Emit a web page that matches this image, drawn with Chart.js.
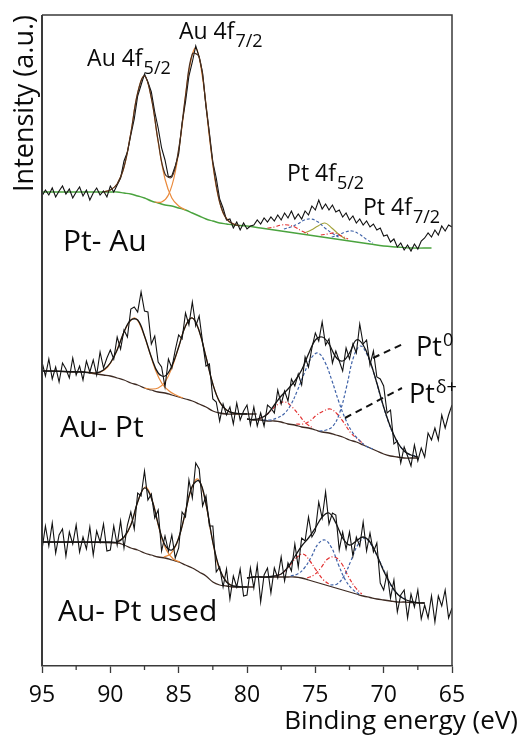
<!DOCTYPE html>
<html><head><meta charset="utf-8">
<script src="https://cdn.jsdelivr.net/npm/chart.js@4/dist/chart.umd.min.js"></script>
<style>html,body{margin:0;padding:0;background:#fff}canvas{display:block}</style>
</head><body>
<canvas id="c" width="521" height="738"></canvas>
<script>
// ---------- DATA (binding energy in eV, intensity in a.u.) ----------
const tickLabels = [95, 90, 85, 80, 75, 70, 65];
const gridEnergy = Array.from({length: 121}, (_, i) => 95 - 0.25 * i);

// raw spectra (same energy grid)
const ptAuData = [470,476,471,478,469,475,480,472,477,468,474,479,470,476,466,473,478,471,475,469,
480,474,481,488,505,514,531,547,570,581,592,584,574,554,538,518,506,489,490,500,
512,543,564,590,604,620,609,593,559,533,504,488,467,458,446,447,438,444,436,443,
437,440,441,446,442,448,444,449,445,451,446,453,448,455,447,452,447,455,451,460,
456,466,457,462,456,461,454,456,449,453,446,450,443,447,441,445,439,442,436,438,
430,431,424,427,419,423,416,421,415,422,417,425,428,433,429,436,431,440,435,441,439];
const auPtData = [304,290,307,287,299,284,303,297,288,308,291,300,286,305,294,306,291,314,298,308,
316,307,329,317,336,329,357,359,354,374,355,354,322,330,304,299,279,307,298,316,
331,327,353,341,364,340,350,324,300,302,267,264,245,262,251,259,242,263,246,255,
261,241,259,240,253,240,261,258,253,276,262,275,265,287,280,292,281,309,299,318,
333,325,344,321,327,303,315,305,295,318,307,322,313,342,322,326,301,315,289,287,
280,253,256,222,225,203,219,210,200,221,205,218,209,233,226,238,226,251,238,251,261];
const usedData = [116,140,120,143,113,131,137,110,134,122,141,114,129,117,139,111,135,124,142,115,
116,140,121,145,118,141,154,137,173,170,195,166,172,148,156,115,130,115,131,108,
118,154,149,186,168,203,197,160,170,140,140,94,99,79,97,67,90,79,97,70,
71,98,78,101,64,91,98,73,98,88,109,85,103,95,122,99,128,125,149,129,
135,164,148,174,142,153,151,116,134,117,134,110,129,120,144,115,133,114,123,83,
76,93,68,86,54,71,76,48,72,59,76,47,61,48,70,44,70,60,76,48,58];

// Pt-Au fits
const topBgE = [95,90,89.5,89,88.5,88,87.5,87,86.5,86,85.5,85,84.5,84,83.5,83,82.5,82,81.5,81,80,79,78,77,76,75,74,73,72,71,70,69,68,66.5];
const topBg  = [474,474,474,473,472,470,468,465,463,461,460,458,456,453,450,447,445,443,442,441,440,438,436,434,432,430,428,426,424,422,420,419,418,418];
const topAu52E = [90.5,90,89.5,89,88.5,88,87.5,87,86.5,86,85.5,85,84.5];
const topAu52  = [474,476,482,499,533,573,590,568,524,487,468,460,456];
const topAu72E = [86.75,86.25,85.75,85.25,84.75,84.25,83.75,83.25,82.75,82.25,81.75,81.25,80.75];
const topAu72  = [464,464,471,494,540,595,618,588,529,479,453,444,441];
const topFitE = [90.5,90,89.5,89,88.5,88,87.5,87,86.5,86,85.5,85,84.5,84,83.5,83,82.5,82,81.5,81,80.5];
const topFit  = [474,476,482,499,533,573,590,568,525,492,489,517,570,612,609,561,503,464,447,442,440];
const topRed1E = [78.5,78,77.5,77,76.5,76,75.5];
const topRed1  = [438,439,441,441,439,435,432];
const topBlue1E = [77.3,76.8,76.3,75.8,75.3,74.8,74.3,73.8,73.3];
const topBlue1  = [437,439,442,446,447,444,438,433,429];
const topOliveE = [75.8,75.3,74.8,74.3,73.8,73.3,72.8];
const topOlive  = [433,436,440,443,438,432,427];
const topRed2E = [74.6,74.1,73.6,73.1,72.6];
const topRed2  = [431,432,433,430,427];
const topBlue2E = [73.8,73.3,72.8,72.3,71.8,71.3,70.8];
const topBlue2  = [429,431,434,435,432,427,423];

// Au-Pt fits
const midBgAuE = [95,94,93,92,91.5,91,90.5,90,89.5,89,88.5,88,87.5,87,86.5,86,85.5,85,84.5,84,83.5,83,82.5,82,81.5,81,80,79.3];
const midBgAu  = [295,295,294,294,293,292,291,290,288,286,283,281,278,276,274,273,271,269,267,265,262,259,255,253,252,252,252,252];
const midAu52E = [91.7,91.2,90.7,90.2,89.7,89.2,88.7,88.2,87.7,87.2,86.7,86.2,85.7,85.2,84.7];
const midAu52  = [294,293,294,299,310,327,342,348,337,317,296,282,275,271,268];
const midAu72E = [87.5,87,86.5,86,85.5,85,84.5,84,83.5,83,82.5,82,81.5,81,80.5];
const midAu72  = [278,277,278,284,298,319,340,348,335,309,282,264,256,253,252];
const midFitAuE = [95,92,91.5,91,90.5,90,89.5,89,88.5,88,87.5,87,86.5,86,85.5,85,84.5,84,83.5,83,82.5,82,81.5,81,80];
const midFitAu  = [295,294,293.5,293,296,303,316,334,346,346,330,309,293,290,300,319,340,348,335,309,282,264,256,253,252];
const midPtE   = [80,79.5,79,78.5,78,77.5,77,76.5,76,75.5,75,74.5,74,73.5,73,72.5,72,71.5,71,70.5,70,69.5,69,68.5,68,67.5];
const midBgPt  = [247,246,246,245,245,244,242,241,239,238,236,234,233,231,229,226,224,221,218,215,212,210,209,208,208,208];
const midFitPt = [247,246.5,248,252,261,270,277,285,296,312,326,329,322,309,305,313,326,321,305,283,259,239,224,215,211,209];
const midBlue1E = [78.8,78.3,77.8,77.3,76.8,76.3,75.8,75.3,74.8,74.3,73.8,73.3,72.8,72.3,71.8,71.3,70.8];
const midBlue1  = [246,246,248,252,261,276,293,308,313,304,286,265,247,234,226,220,217];
const midBlue2E = [74.7,74.2,73.7,73.2,72.7,72.2,71.7,71.2,70.7,70.2,69.7,69.2,68.7,68.2,67.7];
const midBlue2  = [235,236,240,254,280,309,320,311,292,268,246,229,218,212,210];
const midRed1E = [79.2,78.7,78.2,77.7,77.2,76.7,76.2,75.7,75.2];
const midRed1  = [247,250,256,262,264,259,251,243,238];
const midRed2E = [76.4,75.9,75.4,74.9,74.4,73.9,73.4,72.9,72.4,71.9,71.4];
const midRed2  = [242,242,245,251,255,257,252,243,233,227,221];

// Au-Pt used fits
const botBgAuE = [95,89.5,89,88.5,88,87.5,87,86.5,86,85.5,85,84.5,84,83.5,83,82.5,82,81.5,81,80,79.5];
const botBgAu  = [124,123,121,118,116,113,111,109,108,106,104,101,98,94,90,84,81,80,79,79,79];
const botAu52E = [89.4,88.9,88.4,87.9,87.4,86.9,86.4,85.9,85.4,84.9];
const botAu52  = [125,130,145,168,179,164,136,116,107,104];
const botAu72E = [86.1,85.6,85.1,84.6,84.1,83.6,83.1,82.6,82.1,81.6,81.1];
const botAu72  = [109,112,124,148,176,187,168,131,100,86,80];
const botFitAuE = [95,90,89.5,89,88.5,88,87.5,87,86.5,86,85.5,85,84.5,84,83.5,83,82.5,82,81.5,81,80];
const botFitAu  = [124,124,124,129,141,164,178,168,142,121,116,128,154,180,185,162,124,97,84,80,79];
const botPtE   = [80,79.5,79,78.5,78,77.5,77,76.5,76,75.5,75,74.5,74,73.5,73,72.5,72,71.5,71,70.5,70,69.5,69,68.5,68,67.5,67];
const botBgPt  = [88,89,89,89,89,89,89,89,88,86,84,82,80,78,76,74,72,70,68.5,67,66,65,64,64,63.5,63,63];
const botFitPt = [88,89,89,89,90,92,99,109.5,120,128,138,149,153,143,128,121,125,129,124,111,95,82,72,67,64.5,63.3,63];
const botBlue1E = [76.8,76.3,75.8,75.3,74.8,74.3,73.8,73.3,72.8,72.3,71.8];
const botBlue1  = [90,92,98,109,122,126,118,101,86,77,72];
const botBlue2E = [73.9,73.4,72.9,72.4,71.9,71.4,70.9,70.4,69.9,69.4,68.9,68.4];
const botBlue2  = [81,82,90,105,121,128,121,108,93,79,71,67];
const botRed1E = [77.9,77.4,76.9,76.4,75.9,75.4,74.9,74.4,73.9];
const botRed1  = [90,93,100,108,112,105,95,86,81];
const botRed2E = [75.6,75.1,74.6,74.1,73.6,73.1,72.6,72.1,71.6];
const botRed2  = [88,91,98,107,109,103,90,79,72];

// ---------- STYLE / LAYOUT ----------
const FONT = "'Open Sans', 'DejaVu Sans', sans-serif";
const C = {
  data: '#111111', fit: '#151515', fitTop: '#4a3020', green: '#4aa33e', orange: '#ea8a3c',
  brown: '#3d2a22', blue: '#3f62a8', red: '#e23030', olive: '#a3a23a', frame: '#3a3a3a', text: '#0a0a0a'
};
const pts = (E, V) => E.map((e, i) => ({x: e, y: V[i]}));
function line(E, V, color, width, extra) {
  return Object.assign({data: pts(E, V), borderColor: color, borderWidth: width, pointRadius: 0,
    fill: false, tension: 0.4}, extra || {});
}
const blueDash = {borderDash: [3, 2]};
const redDash = {borderDash: [4, 2, 1, 2]};
const raw = (V) => ({data: gridEnergy.map((e, i) => ({x: e, y: V[i]})), borderColor: C.data,
  borderWidth: 1.1, pointRadius: 0, fill: false, tension: 0});

const datasets = [
  line(topFitE, topFit, C.fitTop, 1.2),
  line(midFitAuE, midFitAu, C.fit, 1.3),
  line(midPtE, midFitPt, C.fit, 1.3),
  line(botFitAuE, botFitAu, C.fit, 1.3),
  line(botPtE, botFitPt, C.fit, 1.3),
  raw(ptAuData), raw(auPtData), raw(usedData),
  line(topAu52E, topAu52, C.orange, 1.2), line(topAu72E, topAu72, C.orange, 1.2),
  line(midAu52E, midAu52, C.orange, 1.2), line(midAu72E, midAu72, C.orange, 1.2),
  line(botAu52E, botAu52, C.orange, 1.2), line(botAu72E, botAu72, C.orange, 1.2),
  line(topRed1E, topRed1, C.red, 1.1, redDash), line(topRed2E, topRed2, C.red, 1.1, redDash),
  line(topBlue1E, topBlue1, C.blue, 1.1, blueDash), line(topBlue2E, topBlue2, C.blue, 1.1, blueDash),
  line(topOliveE, topOlive, C.olive, 1.1),
  line(midBlue1E, midBlue1, C.blue, 1.2, blueDash), line(midBlue2E, midBlue2, C.blue, 1.2, blueDash),
  line(midRed1E, midRed1, C.red, 1.2, redDash), line(midRed2E, midRed2, C.red, 1.2, redDash),
  line(botBlue1E, botBlue1, C.blue, 1.2, blueDash), line(botBlue2E, botBlue2, C.blue, 1.2, blueDash),
  line(botRed1E, botRed1, C.red, 1.2, redDash), line(botRed2E, botRed2, C.red, 1.2, redDash),
  line(topBgE, topBg, C.green, 1.4),
  line(midBgAuE, midBgAu, C.brown, 1.3), line(midPtE, midBgPt, C.brown, 1.3),
  line(botBgAuE, botBgAu, C.brown, 1.3), line(botPtE, botBgPt, C.brown, 1.3)
];

// annotations placed in data coordinates
const textLabels = [
  {main: 'Au 4f', sub: '5/2', at: [91.70, 600], size: 23},
  {main: 'Au 4f', sub: '7/2', at: [84.98, 627], size: 23},
  {main: 'Pt 4f', sub: '5/2', at: [77.07, 485], size: 23},
  {main: 'Pt 4f', sub: '7/2', at: [71.51, 451], size: 23},
  {main: 'Pt- Au', at: [93.46, 415], size: 30},
  {main: 'Au- Pt', at: [93.68, 229], size: 30},
  {main: 'Au- Pt used', at: [93.83, 45], size: 30},
  {main: 'Pt', sup: '0', at: [67.63, 310], size: 27},
  {main: 'Pt', sup: 'δ+', at: [68.15, 263], size: 27}
];
const leaderLines = [[[70.78, 308], [68.44, 323]], [[72.83, 248], [68.66, 278]]];
const minorTicks = [92.5, 87.5, 82.5, 77.5, 72.5, 67.5];

const decor = {
  id: 'decor',
  afterDatasetsDraw(chart) {
    const {ctx, chartArea: a, scales: {x, y}} = chart;
    ctx.save();
    // frame
    ctx.strokeStyle = C.frame;
    ctx.lineWidth = 1.5;
    ctx.beginPath();
    ctx.moveTo(a.left, a.top); ctx.lineTo(a.right, a.top); ctx.lineTo(a.right, a.bottom);
    ctx.stroke();
    ctx.lineWidth = 2;
    ctx.beginPath(); ctx.moveTo(a.left, a.top); ctx.lineTo(a.left, a.bottom); ctx.stroke();
    // minor ticks
    ctx.lineWidth = 1.3;
    minorTicks.forEach(v => {
      const px = x.getPixelForValue(v);
      ctx.beginPath(); ctx.moveTo(px, a.bottom); ctx.lineTo(px, a.bottom + 4); ctx.stroke();
    });
    // leader lines
    ctx.strokeStyle = '#111'; ctx.lineWidth = 2; ctx.setLineDash([7, 5]);
    leaderLines.forEach(([p, q]) => {
      ctx.beginPath();
      ctx.moveTo(x.getPixelForValue(p[0]), y.getPixelForValue(p[1]));
      ctx.lineTo(x.getPixelForValue(q[0]), y.getPixelForValue(q[1]));
      ctx.stroke();
    });
    ctx.setLineDash([]);
    // labels
    ctx.fillStyle = C.text; ctx.textBaseline = 'alphabetic'; ctx.textAlign = 'left';
    textLabels.forEach(l => {
      const px = x.getPixelForValue(l.at[0]), py = y.getPixelForValue(l.at[1]);
      ctx.font = l.size + 'px ' + FONT;
      ctx.fillText(l.main, px, py);
      const w = ctx.measureText(l.main).width;
      if (l.sub) { ctx.font = Math.round(l.size * 0.8) + 'px ' + FONT; ctx.fillText(l.sub, px + w + 1, py + 8); }
      if (l.sup) { ctx.font = Math.round(l.size * 0.65) + 'px ' + FONT; ctx.fillText(l.sup, px + w + 1, py - 10); }
    });
    // x-axis title
    ctx.font = '26px ' + FONT; ctx.textAlign = 'right';
    ctx.fillText('Binding energy (eV)', 518, 729);
    ctx.restore();
  }
};

new Chart(document.getElementById('c'), {
  type: 'line',
  data: {datasets},
  options: {
    responsive: false, animation: false, devicePixelRatio: 1,
    layout: {padding: {top: 15, right: 69, left: 0, bottom: 0}},
    plugins: {legend: {display: false}, tooltip: {enabled: false}},
    scales: {
      x: {
        type: 'linear', reverse: true, min: 65, max: 95,
        afterFit(s) { s.height = 72; },
        afterBuildTicks(s) { s.ticks = tickLabels.map(v => ({value: v})); },
        ticks: {font: {family: FONT, size: 23}, color: C.text, padding: 9, maxRotation: 0,
          callback: v => String(v)},
        grid: {drawOnChartArea: false, drawTicks: true, tickLength: 7, tickColor: C.frame, tickWidth: 1.3},
        border: {display: true, color: C.frame, width: 1.5}
      },
      y: {
        min: 0, max: 651,
        afterFit(s) { s.width = 42; },
        ticks: {display: false},
        grid: {display: false, drawTicks: false},
        border: {display: false},
        title: {display: true, text: 'Intensity (a.u.)', align: 'end', color: C.text,
          font: {family: FONT, size: 27}, padding: {top: 9, bottom: 0}}
      }
    }
  },
  plugins: [decor]
});
</script>
</body></html>
